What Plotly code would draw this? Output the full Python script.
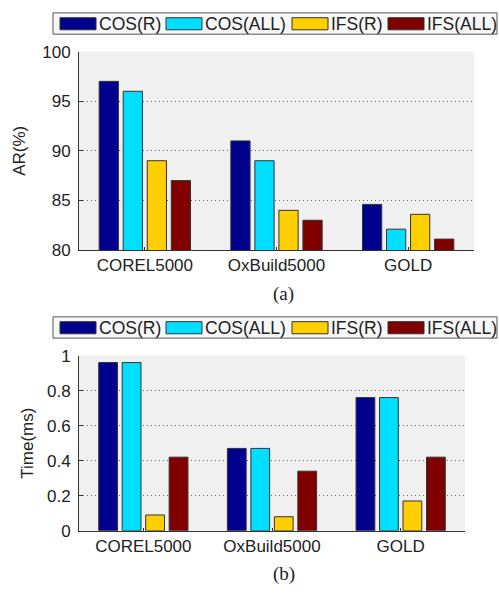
import plotly.graph_objects as go

W, H = 499, 594

categories = ["COREL5000", "OxBuild5000", "GOLD"]
series_names = ["COS(R)", "COS(ALL)", "IFS(R)", "IFS(ALL)"]
ar_cos_r = [97.0, 91.0, 84.6]
ar_cos_all = [96.0, 89.0, 82.1]
ar_ifs_r = [89.0, 84.0, 83.6]
ar_ifs_all = [87.0, 83.0, 81.1]
time_cos_r = [0.96, 0.47, 0.76]
time_cos_all = [0.96, 0.47, 0.76]
time_ifs_r = [0.09, 0.08, 0.17]
time_ifs_all = [0.42, 0.34, 0.42]
ar_ticks = [80, 85, 90, 95, 100]
time_ticks = [0, 0.2, 0.4, 0.6, 0.8, 1]

colors = ["#00008F", "#00DFFF", "#FFCF00", "#800000"]
FONT = "Liberation Sans, Arial, sans-serif"

fig = go.Figure()
top_series = [ar_cos_r, ar_cos_all, ar_ifs_r, ar_ifs_all]
bot_series = [time_cos_r, time_cos_all, time_ifs_r, time_ifs_all]
for name, vals, c in zip(series_names, top_series, colors):
    fig.add_trace(go.Bar(x=categories, y=vals, name=name, marker=dict(color=c, line=dict(color="#333333", width=1)),
                         xaxis="x", yaxis="y", showlegend=False))
for name, vals, c in zip(series_names, bot_series, colors):
    fig.add_trace(go.Bar(x=categories, y=vals, name=name, marker=dict(color=c, line=dict(color="#333333", width=1)),
                         xaxis="x2", yaxis="y2", showlegend=False))

def px(x):
    return x / W

def py(y):
    return 1 - y / H

axis_common = dict(showline=True, linecolor="#333333", linewidth=1, mirror=False,
                   tickfont=dict(family=FONT, size=17, color="#222222"), zeroline=False)
grid = dict(showgrid=True, gridcolor="#6A6A6A", griddash="1px,3px", gridwidth=1)

fig.update_layout(
    width=W, height=H, margin=dict(l=0, r=0, t=0, b=0),
    paper_bgcolor="white", plot_bgcolor="#F0F0F0",
    barmode="group", bargap=0.27, bargroupgap=0.2,
    xaxis=dict(domain=[px(79), px(474)], anchor="y", showgrid=False,
               ticks="inside", ticklen=3, tickcolor="#333333", **axis_common),
    yaxis=dict(domain=[py(249), py(44)], anchor="x", range=[80, 100], tickvals=ar_ticks,
               ticks="inside", ticklen=4, tickcolor="#333333", ticklabelstandoff=4,
               title=dict(text="AR(%)", font=dict(family=FONT, size=17, color="#222222"), standoff=12),
               **grid, **axis_common),
    xaxis2=dict(domain=[px(79), px(465)], anchor="y2", showgrid=False,
                ticks="inside", ticklen=3, tickcolor="#333333", **axis_common),
    yaxis2=dict(domain=[py(539), py(358)], anchor="x2", range=[0, 1], tickvals=time_ticks,
                ticktext=["0", "0.2", "0.4", "0.6", "0.8", "1"],
                ticks="inside", ticklen=4, tickcolor="#333333", ticklabelstandoff=4,
                title=dict(text="Time(ms)", font=dict(family=FONT, size=17, color="#222222"), standoff=8),
                **grid, **axis_common),
)

shapes = []
annotations = []

def add_legend(y_top):
    y_bot = y_top + 22
    shapes.append(dict(type="rect", xref="paper", yref="paper", x0=px(53), x1=px(497), y0=py(y_bot), y1=py(y_top),
                       fillcolor="#F7F7F7", line=dict(color="#555555", width=1), layer="above"))
    sw_x = [60, 166, 292, 388]
    for sx, name, c in zip(sw_x, series_names, colors):
        shapes.append(dict(type="rect", xref="paper", yref="paper", x0=px(sx), x1=px(sx + 36),
                           y0=py(y_top + 17.5), y1=py(y_top + 5), fillcolor=c,
                           line=dict(color="#333333", width=1), layer="above"))
        annotations.append(dict(text=name, xref="paper", yref="paper", x=px(sx + 37), y=py(y_top + 11.5),
                                xanchor="left", yanchor="middle", showarrow=False,
                                font=dict(family=FONT, size=17.5, color="#222222")))

add_legend(4)
add_legend(318)

annotations.append(dict(text="(a)", xref="paper", yref="paper", x=px(283.5), y=py(294), xanchor="center",
                        yanchor="middle", showarrow=False,
                        font=dict(family="Liberation Serif, Times New Roman, serif", size=19, color="#222222")))
annotations.append(dict(text="(b)", xref="paper", yref="paper", x=px(283.5), y=py(584), xanchor="center",
                        yanchor="middle", showarrow=False,
                        font=dict(family="Liberation Serif, Times New Roman, serif", size=19, color="#222222")))

fig.update_layout(shapes=shapes, annotations=annotations)
fig.write_html("out.html")
